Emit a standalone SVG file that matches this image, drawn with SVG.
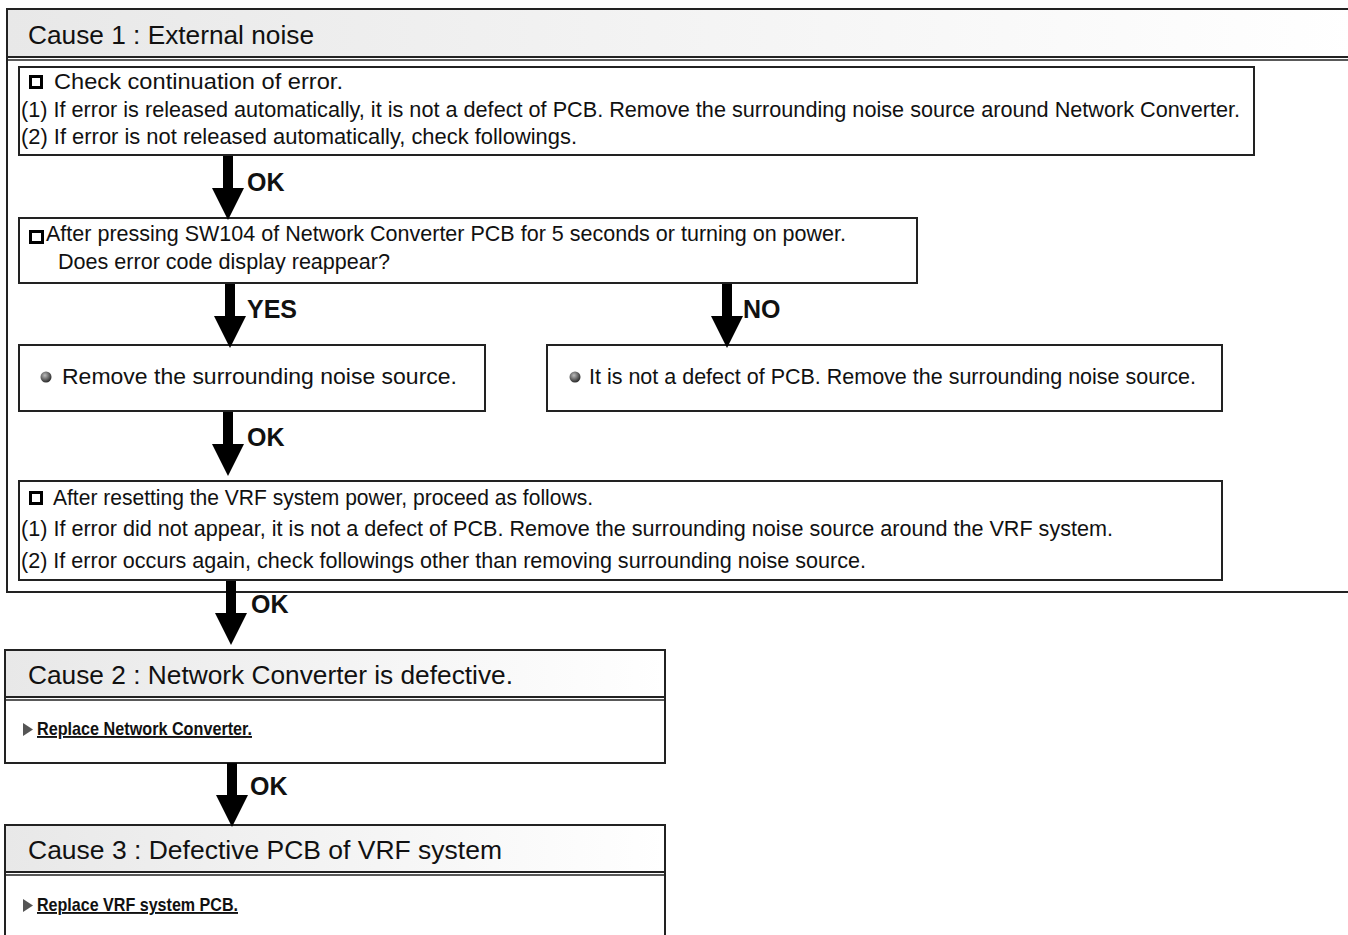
<svg xmlns="http://www.w3.org/2000/svg" width="1348" height="935" viewBox="0 0 1348 935">
<defs>
<linearGradient id="hdr" x1="0" y1="0" x2="1" y2="0">
<stop offset="0" stop-color="#e8e8e8"/>
<stop offset="1" stop-color="#ffffff"/>
</linearGradient>
<radialGradient id="ball" cx="0.4" cy="0.35" r="0.65">
<stop offset="0" stop-color="#bbbbbb"/>
<stop offset="1" stop-color="#2a2a2a"/>
</radialGradient>
<path id="arr" d="M-5,0 H5 V32 H16 L0,64 L-16,32 H-5 Z"/>
</defs>
<style>
text{font-family:"Liberation Sans",Arial,sans-serif;fill:#111}
.hd{font-size:26px}
.tx{font-size:21.5px}
.lb{font-size:25px;font-weight:bold}
.rp{font-family:"Liberation Sans Narrow","Liberation Sans",Arial,sans-serif;font-size:19px;font-weight:bold;text-decoration:underline}
.bx{fill:#fff;stroke:#222;stroke-width:2}
.hb{fill:url(#hdr);stroke:#222;stroke-width:2}
.dl{stroke:#222;stroke-width:1.5;fill:none}
.ck{fill:none;stroke:#000;stroke-width:3}
.tri{fill:#555}
</style>
<rect width="1348" height="935" fill="#fff"/>

<g id="cause1">
<rect class="bx" x="7" y="9" width="1350" height="583"/>
<rect class="hb" x="7" y="9" width="1350" height="48"/>
<line class="dl" x1="7" y1="60" x2="1348" y2="60"/>
<text class="hd" x="28" y="44" textLength="286" lengthAdjust="spacingAndGlyphs">Cause 1 : External noise</text>
</g>

<g id="check">
<rect class="bx" x="19" y="67" width="1235" height="88"/>
<rect class="ck" x="30.5" y="76.5" width="11" height="11"/>
<text class="tx" x="54" y="89" textLength="289" lengthAdjust="spacingAndGlyphs">Check continuation of error.</text>
<text class="tx" x="21" y="117" textLength="1219" lengthAdjust="spacingAndGlyphs">(1) If error is released automatically, it is not a defect of PCB. Remove the surrounding noise source around Network Converter.</text>
<text class="tx" x="21" y="144" textLength="556" lengthAdjust="spacingAndGlyphs">(2) If error is not released automatically, check followings.</text>
</g>

<g id="press">
<rect class="bx" x="19" y="218" width="898" height="65"/>
<rect class="ck" x="30.5" y="231.5" width="12" height="11"/>
<text class="tx" x="46" y="241" textLength="800" lengthAdjust="spacingAndGlyphs">After pressing SW104 of Network Converter PCB for 5 seconds or turning on power.</text>
<text class="tx" x="58" y="269" textLength="332" lengthAdjust="spacingAndGlyphs">Does error code display reappear?</text>
</g>

<g id="remove">
<rect class="bx" x="19" y="345" width="466" height="66"/>
<circle cx="46" cy="377" r="5.5" fill="url(#ball)"/>
<text class="tx" x="62" y="384" textLength="395" lengthAdjust="spacingAndGlyphs">Remove the surrounding noise source.</text>
</g>

<g id="notdefect">
<rect class="bx" x="547" y="345" width="675" height="66"/>
<circle cx="575" cy="377" r="5.5" fill="url(#ball)"/>
<text class="tx" x="589" y="384" textLength="607" lengthAdjust="spacingAndGlyphs">It is not a defect of PCB. Remove the surrounding noise source.</text>
</g>

<g id="reset">
<rect class="bx" x="19" y="481" width="1203" height="99"/>
<rect class="ck" x="30.5" y="492.5" width="11" height="11"/>
<text class="tx" x="53" y="505" textLength="540" lengthAdjust="spacingAndGlyphs">After resetting the VRF system power, proceed as follows.</text>
<text class="tx" x="21" y="536" textLength="1092" lengthAdjust="spacingAndGlyphs">(1) If error did not appear, it is not a defect of PCB. Remove the surrounding noise source around the VRF system.</text>
<text class="tx" x="21" y="568" textLength="845" lengthAdjust="spacingAndGlyphs">(2) If error occurs again, check followings other than removing surrounding noise source.</text>
</g>

<g id="cause2">
<rect class="bx" x="5" y="650" width="660" height="113"/>
<rect class="hb" x="5" y="650" width="660" height="47"/>
<line class="dl" x1="5" y1="700" x2="665" y2="700"/>
<text class="hd" x="28" y="684" textLength="485" lengthAdjust="spacingAndGlyphs">Cause 2 : Network Converter is defective.</text>
<polygon class="tri" points="23,723 33,729.5 23,736"/>
<text class="rp" x="37" y="735" textLength="215" lengthAdjust="spacingAndGlyphs">Replace Network Converter.</text>
</g>

<g id="cause3">
<rect class="bx" x="5" y="825" width="660" height="120"/>
<rect class="hb" x="5" y="825" width="660" height="47"/>
<line class="dl" x1="5" y1="875" x2="665" y2="875"/>
<text class="hd" x="28" y="859" textLength="474" lengthAdjust="spacingAndGlyphs">Cause 3 : Defective PCB of VRF system</text>
<polygon class="tri" points="23,899 33,905.5 23,912"/>
<text class="rp" x="37" y="911" textLength="201" lengthAdjust="spacingAndGlyphs">Replace VRF system PCB.</text>
</g>

<g id="connectors">
<use href="#arr" x="228" y="156"/>
<text class="lb" x="247" y="191">OK</text>
<use href="#arr" x="230" y="284"/>
<text class="lb" x="247" y="318">YES</text>
<use href="#arr" x="727" y="284"/>
<text class="lb" x="743" y="318">NO</text>
<use href="#arr" x="228" y="412"/>
<text class="lb" x="247" y="446">OK</text>
<use href="#arr" x="231" y="581"/>
<text class="lb" x="251" y="613">OK</text>
<use href="#arr" x="232" y="763"/>
<text class="lb" x="250" y="795">OK</text>
</g>
</svg>
